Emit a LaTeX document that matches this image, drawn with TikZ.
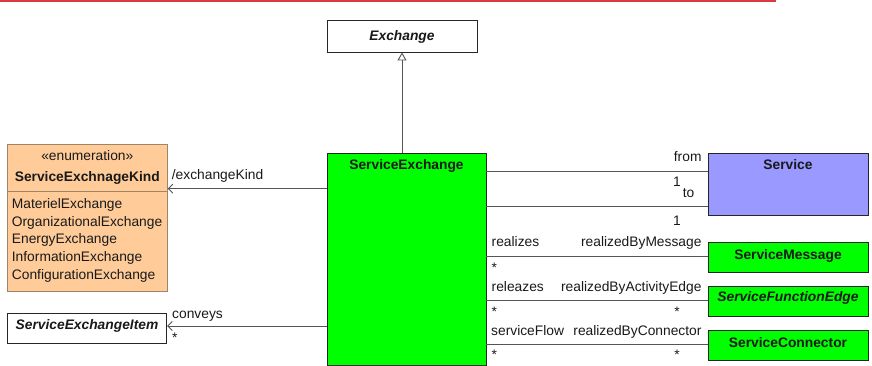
\documentclass[tikz,border=0pt]{standalone}
\usepackage{fontspec}
\setmainfont{Liberation Sans}
\usetikzlibrary{arrows.meta}
\definecolor{topred}{HTML}{DA3A40}
\definecolor{brightgreen}{HTML}{00FF00}
\definecolor{svcblue}{HTML}{9999FF}
\definecolor{peach}{HTML}{FFCC99}
\definecolor{peachborder}{HTML}{A08466}
\definecolor{linegray}{HTML}{555555}
\tikzset{
  box/.style={draw=black!85, line width=0.9pt, inner sep=0pt, rectangle},
  txt/.style={inner sep=0pt, font=\fontsize{13.8}{16}\selectfont, text=black!90},
  assoc/.style={draw=linegray, line width=0.9pt},
  navarrow/.style={assoc, -{Straight Barb[length=4.5pt,width=9pt]}},
  genarrow/.style={assoc, -{Triangle[open,length=8pt,width=9pt,fill=white]}}
}
\begin{document}
\begin{tikzpicture}[x=1pt,y=-1pt]
\useasboundingbox (0,0) rectangle (872,366);
\draw[topred, line width=1.6pt] (0,0.8) -- (776,0.8);

% boxes
\node[box, fill=white, minimum width=150pt, minimum height=32pt] (exch) at (402,36) {};
\node[box, fill=brightgreen, minimum width=159pt, minimum height=212pt] (se) at (406.5,259) {};
\node[box, fill=svcblue, minimum width=160pt, minimum height=62pt] (svc) at (788,184) {};
\node[box, fill=brightgreen, minimum width=160pt, minimum height=30pt] (smsg) at (788,257) {};
\node[box, fill=brightgreen, minimum width=160pt, minimum height=30pt] (sfe) at (788,301) {};
\node[box, fill=brightgreen, minimum width=160pt, minimum height=30pt] (scon) at (788,345) {};
\node[box, draw=peachborder, fill=peach, minimum width=160pt, minimum height=147pt] (enum) at (87.3,217.5) {};
\node[box, fill=white, minimum width=159.4pt, minimum height=30pt] (item) at (87,328) {};
\draw[peachborder, line width=0.9pt] (enum.west |- 0,191) -- (enum.east |- 0,191);

% titles
\node[txt, anchor=base] (exchT) at (402,41) {\bfseries\itshape Exchange};
\node[txt, anchor=base] (seT) at (406.5,170) {\bfseries ServiceExchange};
\node[txt, anchor=base] (svcT) at (788,170) {\bfseries Service};
\node[txt, anchor=base] (smsgT) at (788,259.5) {\bfseries ServiceMessage};
\node[txt, anchor=base] (sfeT) at (788,301.5) {\bfseries\itshape ServiceFunctionEdge};
\node[txt, anchor=base] (sconT) at (788,347) {\bfseries ServiceConnector};
\node[txt, anchor=base] (itemT) at (87,329) {\bfseries\itshape ServiceExchangeItem};
\node[txt, anchor=base] (enumS) at (87.3,160.5) {«enumeration»};
\node[txt, anchor=base] (enumT) at (87.3,182) {\bfseries ServiceExchnageKind};
\node[txt, anchor=base west] (lit1) at (11.7,208) {MaterielExchange};
\node[txt, anchor=base west] (lit2) at (11.7,226) {OrganizationalExchange};
\node[txt, anchor=base west] (lit3) at (11.7,243.5) {EnergyExchange};
\node[txt, anchor=base west] (lit4) at (11.7,261.5) {InformationExchange};
\node[txt, anchor=base west] (lit5) at (11.7,279) {ConfigurationExchange};

% connectors
\draw[genarrow] (exch.south |- se.north) -- (exch.south);
\draw[navarrow] (se.west |- 0,188.7) -- (enum.east |- 0,188.7);
\draw[navarrow] (se.west |- 0,326) -- (item.east |- 0,326);
\draw[assoc] (se.east |- 0,171.7) -- (svc.west |- 0,171.7);
\draw[assoc] (se.east |- 0,206.7) -- (svc.west |- 0,206.7);
\draw[assoc] (se.east |- 0,256) -- (smsg.west |- 0,256);
\draw[assoc] (se.east |- 0,300) -- (sfe.west |- 0,300);
\draw[assoc] (se.east |- 0,344) -- (scon.west |- 0,344);

% connector labels
\node[txt, anchor=base west] (lEK) at (171.7,180) {/exchangeKind};
\node[txt, anchor=base west] (lCv) at (172,318.5) {conveys};
\node[txt, anchor=base west] (lCvM) at (172,342) {*};
\node[txt, anchor=base east] (lFrom) at (701.7,161.5) {from};
\node[txt, anchor=base] (lFromM) at (677,186.5) {1};
\node[txt, anchor=base] (lTo) at (688.5,197.5) {to};
\node[txt, anchor=base] (lToM) at (677,225) {1};
\node[txt, anchor=base west] (lR1) at (491.5,246.5) {realizes};
\node[txt, anchor=base east] (lR1b) at (701.7,246.5) {realizedByMessage};
\node[txt, anchor=base west] (lR1m) at (491.5,272) {*};
\node[txt, anchor=base west] (lR2) at (491.5,291.5) {releazes};
\node[txt, anchor=base east] (lR2b) at (701.7,291.5) {realizedByActivityEdge};
\node[txt, anchor=base west] (lR2m) at (491.5,316) {*};
\node[txt, anchor=base] (lR2n) at (677,316) {*};
\node[txt, anchor=base west] (lR3) at (491,335.5) {serviceFlow};
\node[txt, anchor=base east] (lR3b) at (701.7,335.5) {realizedByConnector};
\node[txt, anchor=base west] (lR3m) at (491.5,359.5) {*};
\node[txt, anchor=base] (lR3n) at (677,359.5) {*};
\end{tikzpicture}
\end{document}
